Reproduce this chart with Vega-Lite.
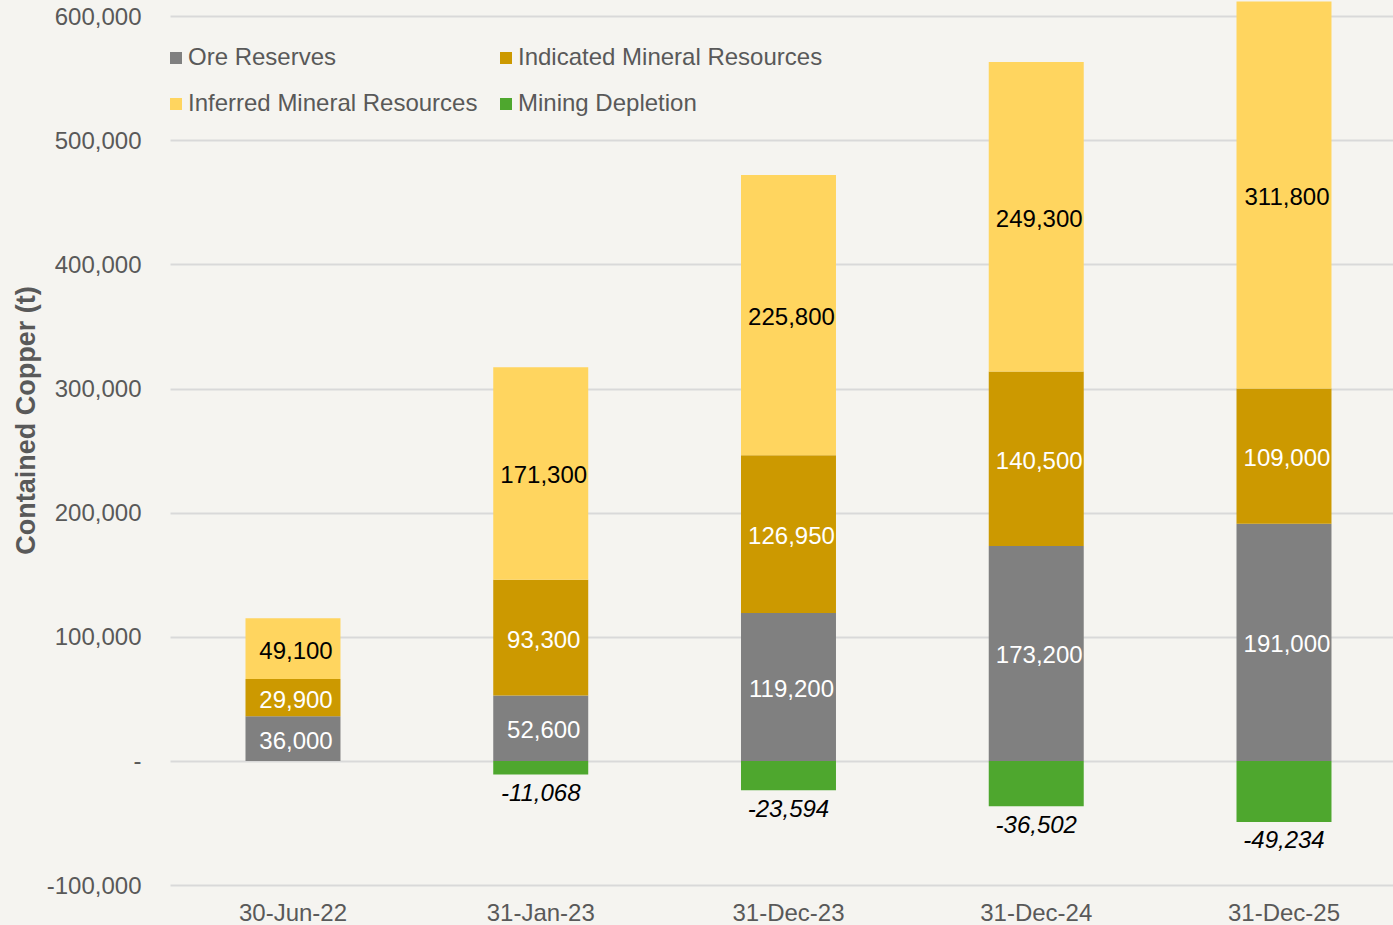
{
  "$schema": "https://vega.github.io/schema/vega-lite/v6.json",
  "width": 1223,
  "height": 885,
  "autosize": {"type": "none"},
  "padding": {"left": 170, "top": 0, "right": 0, "bottom": 40},
  "background": "#f5f4f0",
  "config": {
    "view": {"stroke": null},
    "font": "Liberation Sans",
    "axis": {"labelFont": "Liberation Sans", "titleFont": "Liberation Sans"},
    "legend": {"labelFont": "Liberation Sans"}
  },
  "data": {
    "values": [
      {"date": "30-Jun-22", "type": "Ore Reserves", "value": 36000},
      {"date": "30-Jun-22", "type": "Indicated Mineral Resources", "value": 29900},
      {"date": "30-Jun-22", "type": "Inferred Mineral Resources", "value": 49100},
      {"date": "31-Jan-23", "type": "Ore Reserves", "value": 52600},
      {"date": "31-Jan-23", "type": "Indicated Mineral Resources", "value": 93300},
      {"date": "31-Jan-23", "type": "Inferred Mineral Resources", "value": 171300},
      {"date": "31-Jan-23", "type": "Mining Depletion", "value": -11068},
      {"date": "31-Dec-23", "type": "Ore Reserves", "value": 119200},
      {"date": "31-Dec-23", "type": "Indicated Mineral Resources", "value": 126950},
      {"date": "31-Dec-23", "type": "Inferred Mineral Resources", "value": 225800},
      {"date": "31-Dec-23", "type": "Mining Depletion", "value": -23594},
      {"date": "31-Dec-24", "type": "Ore Reserves", "value": 173200},
      {"date": "31-Dec-24", "type": "Indicated Mineral Resources", "value": 140500},
      {"date": "31-Dec-24", "type": "Inferred Mineral Resources", "value": 249300},
      {"date": "31-Dec-24", "type": "Mining Depletion", "value": -36502},
      {"date": "31-Dec-25", "type": "Ore Reserves", "value": 191000},
      {"date": "31-Dec-25", "type": "Indicated Mineral Resources", "value": 109000},
      {"date": "31-Dec-25", "type": "Inferred Mineral Resources", "value": 311800},
      {"date": "31-Dec-25", "type": "Mining Depletion", "value": -49234}
    ]
  },
  "transform": [
    {"calculate": "indexof(['Ore Reserves','Indicated Mineral Resources','Inferred Mineral Resources','Mining Depletion'], datum.type)", "as": "rank"},
    {"stack": "value", "groupby": ["date"], "sort": [{"field": "rank", "order": "ascending"}], "as": ["v0", "v1"], "offset": "zero"},
    {"calculate": "(datum.v0 + datum.v1) / 2", "as": "mid"},
    {"calculate": "replace(format(datum.value, ','), '\u2212', '-')", "as": "label"}
  ],
  "encoding": {
    "x": {
      "field": "date",
      "type": "ordinal",
      "sort": null,
      "scale": {"paddingInner": 0.6166, "paddingOuter": 0.2765, "align": 0.551},
      "axis": {
        "title": null,
        "labelAngle": 0,
        "domain": false,
        "ticks": false,
        "tickSize": 0,
        "labelPadding": 16,
        "labelFontSize": 24,
        "labelColor": "#595959"
      }
    }
  },
  "layer": [
    {
      "mark": {"type": "bar"},
      "encoding": {
        "y": {
          "field": "v0",
          "type": "quantitative",
          "scale": {"domain": [-100000, 613000], "nice": false, "zero": false},
          "axis": {
            "values": [-100000, 0, 100000, 200000, 300000, 400000, 500000, 600000],
            "labelExpr": "datum.value == 0 ? '-\u00a0\u00a0' : replace(format(datum.value, ','), '\u2212', '-')",
            "domain": false,
            "ticks": false,
            "tickSize": 0,
            "labelPadding": 29,
            "labelFontSize": 24,
            "labelColor": "#595959",
            "labelOffset": 1,
            "grid": true,
            "gridColor": "#d9d9d9",
            "gridWidth": 2,
            "title": "Contained Copper (t)",
            "titleFontSize": 27,
            "titleFontWeight": "bold",
            "titleColor": "#595959",
            "titlePadding": 6,
            "titleY": 420
          }
        },
        "y2": {"field": "v1"},
        "color": {
          "field": "type",
          "type": "nominal",
          "scale": {
            "domain": ["Ore Reserves", "Indicated Mineral Resources", "Inferred Mineral Resources", "Mining Depletion"],
            "range": ["#808080", "#cc9900", "#ffd55f", "#4ea72e"]
          },
          "legend": {
            "title": null,
            "orient": "none",
            "legendX": -6,
            "legendY": 46,
            "direction": "horizontal",
            "columns": 2,
            "symbolType": "square",
            "symbolSize": 144,
            "symbolStrokeWidth": 0,
            "labelFontSize": 24,
            "labelColor": "#595959",
            "labelOffset": 0,
            "rowPadding": 22,
            "columnPadding": 16,
            "padding": 0,
            "labelLimit": 0
          }
        }
      }
    },
    {
      "transform": [{"filter": "datum.value > 0"}],
      "mark": {"type": "text", "fontSize": 24, "align": "center", "baseline": "middle", "dx": 3, "dy": 3},
      "encoding": {
        "y": {"field": "mid", "type": "quantitative"},
        "text": {"field": "label"},
        "color": {
          "condition": {"test": "datum.type == 'Inferred Mineral Resources'", "value": "#000000"},
          "value": "#ffffff"
        }
      }
    },
    {
      "transform": [{"filter": "datum.value < 0"}],
      "mark": {"type": "text", "fontSize": 24, "fontStyle": "italic", "align": "center", "baseline": "middle", "dy": 19.5, "color": "#000000"},
      "encoding": {
        "y": {"field": "v1", "type": "quantitative"},
        "text": {"field": "label"}
      }
    }
  ]
}
